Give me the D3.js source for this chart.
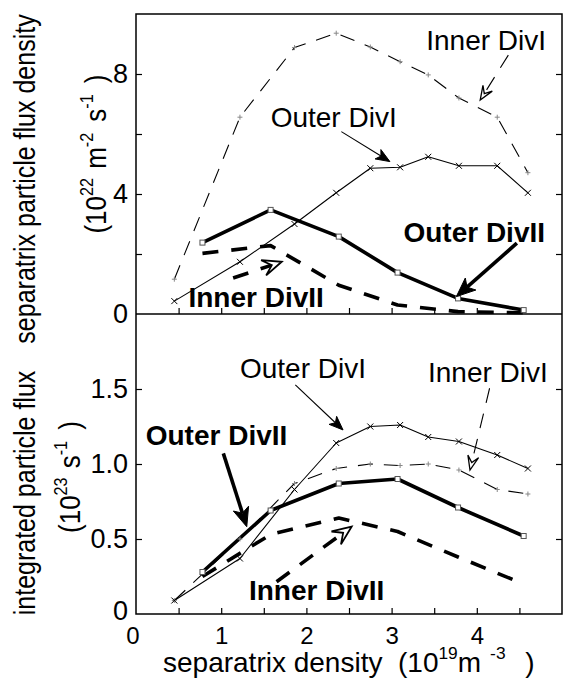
<!DOCTYPE html>
<html>
<head>
<meta charset="utf-8">
<script src="https://cdn.jsdelivr.net/npm/d3@7"></script>
<style>
  body { margin: 0; background: #fff; }
  svg { font-family: "Liberation Sans", Arial, Helvetica, sans-serif; }
  .pre { white-space: pre; }
</style>
</head>
<body>
<div id="vis"></div>
<script>
const FRAME_WIDTH = 564;
const FRAME_HEIGHT = 679;
const PLOT = {left: 136, right: 562, top: 14, mid: 314, bottom: 614};

// separatrix density (10^19 m^-3) of the measured points
const xDivI  = [0.45, 1.22, 1.86, 2.35, 2.75, 3.10, 3.43, 3.79, 4.24, 4.60];
const xDivII = [0.78, 1.58, 2.38, 3.07, 3.78, 4.55];

// upper panel: separatrix particle flux density (10^22 m^-2 s^-1)
const topInnerDivI  = [1.16, 6.56, 8.88, 9.36, 8.90, 8.41, 7.97, 7.20, 6.56, 4.71];
const topOuterDivI  = [0.43, 1.74, 3.00, 4.04, 4.86, 4.89, 5.24, 4.94, 4.94, 4.04];
const topOuterDivII = [2.38, 3.47, 2.58, 1.38, 0.52, 0.13];
const topInnerDivII = [2.02, 2.28, 0.96, 0.30, 0.08, 0.04];

// lower panel: integrated particle flux (10^23 s^-1)
const botInnerDivI  = [0.09, 0.50, 0.87, 0.97, 1.00, 0.99, 1.00, 0.96, 0.83, 0.80];
const botOuterDivI  = [0.09, 0.37, 0.83, 1.14, 1.25, 1.26, 1.18, 1.15, 1.06, 0.97];
const botOuterDivII = [0.28, 0.69, 0.87, 0.90, 0.71, 0.52];
const botInnerDivII = [0.25, 0.53, 0.64, 0.55, 0.38, 0.20];

// ticks
const xTicks = [0.5, 1, 1.5, 2, 2.5, 3, 3.5, 4, 4.5];
const xTickLabels = [0, 1, 2, 3, 4];
const topYTicks = [2, 4, 6, 8];
const topYLabels = [0, 4, 8];
const botYTicks = [0.5, 1, 1.5];
const botYLabels = ["0", "0.5", "1.0", "1.5"];

const svg = d3.select("#vis")
  .append("svg")
    .attr("width", FRAME_WIDTH)
    .attr("height", FRAME_HEIGHT);

const X_SCALE = d3.scaleLinear().domain([0, 5]).range([PLOT.left, PLOT.right]);
const Y_TOP = d3.scaleLinear().domain([0, 10]).range([PLOT.mid, PLOT.top]);
const Y_BOT = d3.scaleLinear().domain([0, 2]).range([PLOT.bottom, PLOT.mid]);

// ---- axes (inward ticks, MATLAB style) ----
function tickAxis(axis, transform, fmt) {
  const g = svg.append("g")
    .attr("transform", transform)
    .call(axis.tickSizeOuter(0).tickFormat(fmt));
  g.select(".domain").remove();
  g.selectAll(".tick line").attr("stroke", "#000").attr("stroke-width", 1.2);
  return g;
}

// x ticks, both panels
tickAxis(d3.axisBottom(X_SCALE).tickValues(xTicks).tickSizeInner(-6),
         "translate(0," + PLOT.mid + ")", "");
tickAxis(d3.axisBottom(X_SCALE).tickValues(xTicks).tickSizeInner(-6),
         "translate(0," + PLOT.bottom + ")", "");
const xLab = svg.append("g")
  .attr("transform", "translate(0," + PLOT.bottom + ")")
  .call(d3.axisBottom(X_SCALE).tickValues(xTickLabels).tickSize(0).tickPadding(13)
        .tickFormat(d3.format("d")));
xLab.select(".domain").remove();
xLab.selectAll("text").attr("font-size", 24).attr("fill", "#000")
  .attr("font-family", "Liberation Sans, Arial, sans-serif");
xLab.selectAll(".tick").filter(d => d === 0).select("text").attr("dx", "-0.15em");

// y ticks upper
tickAxis(d3.axisLeft(Y_TOP).tickValues(topYTicks).tickSizeInner(-6),
         "translate(" + PLOT.left + ",0)", "");
tickAxis(d3.axisRight(Y_TOP).tickValues(topYTicks).tickSizeInner(-6),
         "translate(" + PLOT.right + ",0)", "");
const yTopLab = svg.append("g")
  .attr("transform", "translate(" + PLOT.left + ",0)")
  .call(d3.axisLeft(Y_TOP).tickValues(topYLabels).tickSize(0).tickPadding(8)
        .tickFormat(d3.format("d")));
yTopLab.select(".domain").remove();
yTopLab.selectAll("text").attr("font-size", 27).attr("fill", "#000")
  .attr("font-family", "Liberation Sans, Arial, sans-serif");

// y ticks lower
tickAxis(d3.axisLeft(Y_BOT).tickValues(botYTicks).tickSizeInner(-6),
         "translate(" + PLOT.left + ",0)", "");
tickAxis(d3.axisRight(Y_BOT).tickValues(botYTicks).tickSizeInner(-6),
         "translate(" + PLOT.right + ",0)", "");
const yBotLab = svg.append("g")
  .attr("transform", "translate(" + PLOT.left + ",0)")
  .call(d3.axisLeft(Y_BOT).tickValues([0, 0.5, 1, 1.5]).tickSize(0).tickPadding(8)
        .tickFormat((d, i) => botYLabels[i]));
yBotLab.select(".domain").remove();
yBotLab.selectAll("text").attr("font-size", 27).attr("fill", "#000")
  .attr("font-family", "Liberation Sans, Arial, sans-serif");
// the lowest "0" sits a bit above the corner
yBotLab.selectAll(".tick").filter(d => d === 0).select("text").attr("dy", "0.2em");

// frame
svg.append("rect")
  .attr("x", PLOT.left).attr("y", PLOT.top)
  .attr("width", PLOT.right - PLOT.left).attr("height", PLOT.bottom - PLOT.top)
  .attr("fill", "none").attr("stroke", "#000").attr("stroke-width", 1.5);
svg.append("line")
  .attr("x1", PLOT.left).attr("x2", PLOT.right)
  .attr("y1", PLOT.mid).attr("y2", PLOT.mid)
  .attr("stroke", "#000").attr("stroke-width", 1.5);

// ---- curves ----
const STYLES = {
  thin:      {w: 1.1, dash: null},
  thinDash:  {w: 1.1, dash: "15,11"},
  thick:     {w: 3.6, dash: null},
  thickDash: {w: 3.6, dash: "16,13"}
};

function curve(xs, ys, yScale, style) {
  const pts = xs.map((x, i) => [x, ys[i]]);
  svg.append("path")
    .datum(pts)
    .attr("fill", "none")
    .attr("stroke", "#000")
    .attr("stroke-width", STYLES[style].w)
    .attr("stroke-dasharray", STYLES[style].dash)
    .attr("stroke-linejoin", "round")
    .attr("d", d3.line().x(d => X_SCALE(d[0])).y(d => yScale(d[1])));
  return pts;
}

function crosses(pts, yScale, color, s) {
  svg.append("g").selectAll("path")
    .data(pts).enter()
    .append("path")
      .attr("d", d => {
        const cx = X_SCALE(d[0]), cy = yScale(d[1]);
        return "M" + (cx - s) + "," + (cy - s) + "L" + (cx + s) + "," + (cy + s) +
               "M" + (cx - s) + "," + (cy + s) + "L" + (cx + s) + "," + (cy - s);
      })
      .attr("stroke", color).attr("stroke-width", 1);
}

function pluses(pts, yScale, color, s) {
  svg.append("g").selectAll("path")
    .data(pts).enter()
    .append("path")
      .attr("d", d => {
        const cx = X_SCALE(d[0]), cy = yScale(d[1]);
        return "M" + (cx - s) + "," + cy + "L" + (cx + s) + "," + cy +
               "M" + cx + "," + (cy - s) + "L" + cx + "," + (cy + s);
      })
      .attr("stroke", color).attr("stroke-width", 1);
}

function squares(pts, yScale, s) {
  svg.append("g").selectAll("rect")
    .data(pts).enter()
    .append("rect")
      .attr("x", d => X_SCALE(d[0]) - s).attr("y", d => yScale(d[1]) - s)
      .attr("width", 2 * s).attr("height", 2 * s)
      .attr("fill", "#fff").attr("stroke", "#555").attr("stroke-width", 1);
}

// upper panel
const tID1 = curve(xDivI, topInnerDivI, Y_TOP, "thinDash");
const tOD1 = curve(xDivI, topOuterDivI, Y_TOP, "thin");
const tOD2 = curve(xDivII, topOuterDivII, Y_TOP, "thick");
curve(xDivII, topInnerDivII, Y_TOP, "thickDash");
pluses(tID1, Y_TOP, "#888", 2.5);
crosses(tOD1, Y_TOP, "#000", 3);
squares(tOD2, Y_TOP, 2.5);

// lower panel
const bID1 = curve(xDivI, botInnerDivI, Y_BOT, "thinDash");
const bOD1 = curve(xDivI, botOuterDivI, Y_BOT, "thin");
const bOD2 = curve(xDivII, botOuterDivII, Y_BOT, "thick");
curve(xDivII, botInnerDivII, Y_BOT, "thickDash");
pluses(bID1, Y_BOT, "#888", 2.5);
crosses(bOD1, Y_BOT, "#000", 3);
squares(bOD2, Y_BOT, 2.5);

// ---- annotations: label position and arrow (data units) ----
const notes = [
  {panel: "top", text: "Inner DivI",  bold: false, at: [4.11, 8.80], from: [4.37, 8.63], to: [4.04, 7.13], style: "thinDash",  open: true},
  {panel: "top", text: "Outer DivI",  bold: false, at: [2.32, 6.23], from: [2.41, 6.08], to: [2.98, 5.08], style: "thin",      open: false},
  {panel: "top", text: "Outer DivII", bold: true,  at: [3.97, 2.40], from: [4.47, 2.36], to: [3.76, 0.58], style: "thick",     open: false},
  {panel: "top", text: "Inner DivII", bold: true,  at: [1.41, 0.23], from: [1.14, 1.20], to: [1.71, 1.74], style: "thickDash", open: true},
  {panel: "bot", text: "Outer DivI",  bold: false, at: [1.96, 1.573], from: [1.87, 1.527], to: [2.43, 1.227], style: "thin",   open: false},
  {panel: "bot", text: "Inner DivI",  bold: false, at: [4.13, 1.547], from: [4.15, 1.505], to: [3.92, 0.96], style: "thinDash", open: true},
  {panel: "bot", text: "Outer DivII", bold: true,  at: [0.945, 1.127], from: [1.025, 1.071], to: [1.30, 0.582], style: "thick", open: false},
  {panel: "bot", text: "Inner DivII", bold: true,  at: [2.12, 0.093], from: [1.65, 0.215], to: [2.53, 0.582], style: "thickDash", open: true}
];

function arrow(p0, p1, style, open) {
  const st = STYLES[style];
  const thick = st.w > 2;
  const L = thick ? 19 : 14, W = thick ? 8 : 5.5;
  const dx = p1[0] - p0[0], dy = p1[1] - p0[1];
  const len = Math.hypot(dx, dy);
  const ux = dx / len, uy = dy / len, nx = -uy, ny = ux;
  const bx = p1[0] - ux * L, by = p1[1] - uy * L;
  const notchF = open ? 0.55 : 0.75;
  const kx = p1[0] - ux * L * notchF, ky = p1[1] - uy * L * notchF;
  svg.append("line")
    .attr("x1", p0[0]).attr("y1", p0[1]).attr("x2", kx).attr("y2", ky)
    .attr("stroke", "#000").attr("stroke-width", st.w)
    .attr("stroke-dasharray", st.dash);
  svg.append("path")
    .attr("d", "M" + p1[0] + "," + p1[1] +
               "L" + (bx + nx * W) + "," + (by + ny * W) +
               "L" + kx + "," + ky +
               "L" + (bx - nx * W) + "," + (by - ny * W) + "Z")
    .attr("fill", open ? "#fff" : "#000")
    .attr("stroke", "#000")
    .attr("stroke-width", open ? (thick ? 1.8 : 1.3) : 1)
    .attr("stroke-linejoin", "miter");
}

notes.forEach(n => {
  const ys = n.panel === "top" ? Y_TOP : Y_BOT;
  arrow([X_SCALE(n.from[0]), ys(n.from[1])], [X_SCALE(n.to[0]), ys(n.to[1])], n.style, n.open);
  svg.append("text")
    .attr("x", X_SCALE(n.at[0]))
    .attr("y", ys(n.at[1]))
    .attr("text-anchor", "middle")
    .attr("font-size", 28)
    .attr("font-weight", n.bold ? "bold" : "normal")
    .text(n.text);
});

// ---- axis titles ----
function rich(textSel, parts, size) {
  const sup = size * 0.62, lift = size * 0.45;
  let up = false;
  textSel.attr("class", "pre");
  parts.forEach(p => {
    const t = textSel.append("tspan").text(p[0]);
    if (p[1] && !up) { t.attr("dy", -lift); up = true; }
    else if (!p[1] && up) { t.attr("dy", lift); up = false; }
    if (p[1]) t.attr("font-size", sup);
    if (p[2]) t.attr("dx", p[2]);
  });
}

svg.append("text")
  .attr("transform", "translate(35,179) rotate(-90) scale(1,1.15)")
  .attr("text-anchor", "middle").attr("font-size", 25)
  .text("separatrix particle flux density");
rich(svg.append("text")
  .attr("transform", "translate(106,154) rotate(-90) scale(1,1.15)")
  .attr("text-anchor", "middle").attr("font-size", 26),
  [["(10"], ["22", true], [" m", false, 2], ["-2", true], [" s", false, 4], ["-1", true], [" )", false, 4]], 26);

svg.append("text")
  .attr("transform", "translate(35,493) rotate(-90) scale(1,1.15)")
  .attr("text-anchor", "middle").attr("font-size", 25)
  .text("integrated particle flux");
rich(svg.append("text")
  .attr("transform", "translate(80,477) rotate(-90) scale(1,1.15)")
  .attr("text-anchor", "middle").attr("font-size", 26),
  [["(10"], ["23", true], [" s", false, 2], ["-1", true], [" )", false, 4]], 26);

rich(svg.append("text")
  .attr("x", 163).attr("y", 672)
  .attr("font-size", 28),
  [["separatrix density  (10"], ["19", true], ["m"], ["-3", true, 9], [" )", false, 12]], 28);
</script>
</body>
</html>
